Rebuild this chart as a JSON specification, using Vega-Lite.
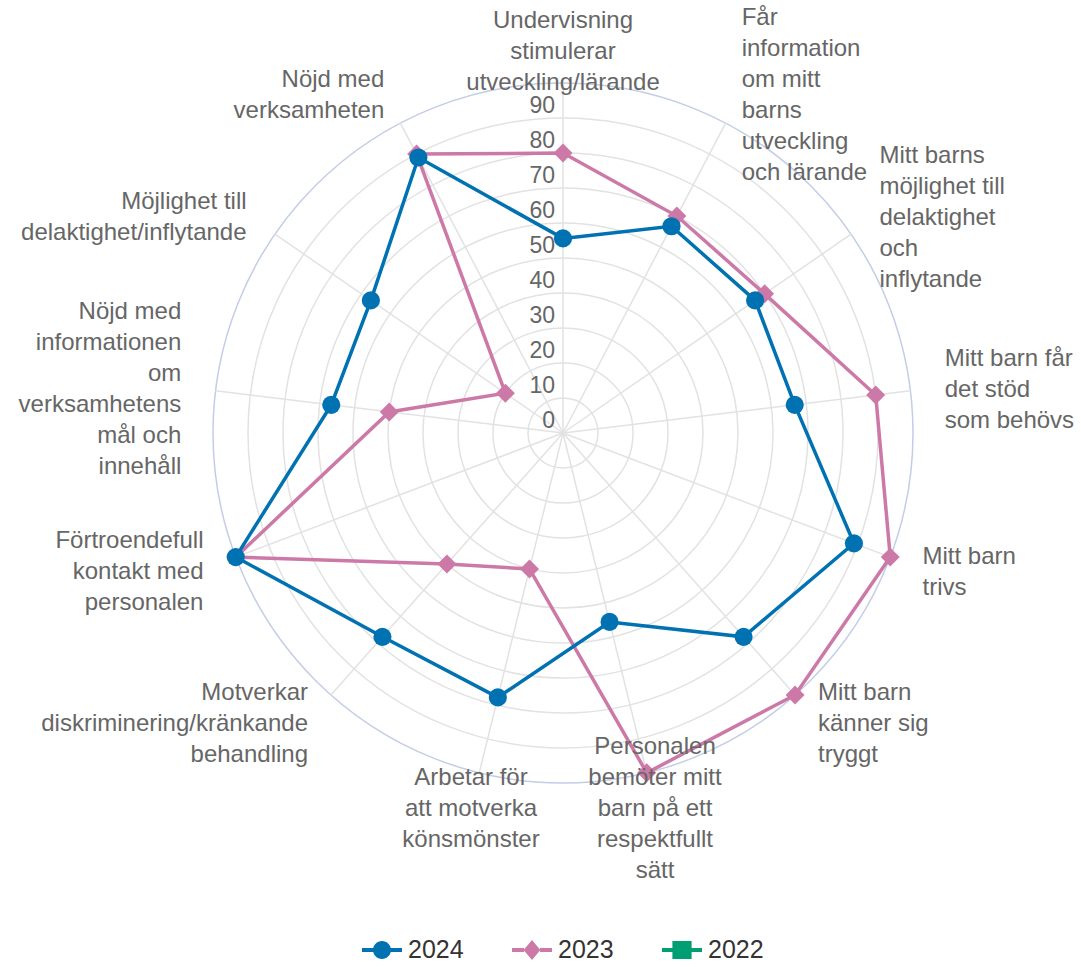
{
  "$schema": "https://vega.github.io/schema/vega-lite/v6.json",
  "width": 1081,
  "height": 967,
  "autosize": {"type": "none"},
  "padding": 0,
  "background": "white",
  "config": {"view": {"stroke": null}, "font": "Liberation Sans"},
  "resolve": {"legend": {"color": "independent", "shape": "independent"}},
  "datasets": {
    "cats": [
      {"i": 0, "label": "Undervisning\nstimulerar\nutveckling/lärande"},
      {"i": 1, "label": "Får\ninformation\nom mitt\nbarns\nutveckling\noch lärande"},
      {"i": 2, "label": "Mitt barns\nmöjlighet till\ndelaktighet\noch\ninflytande"},
      {"i": 3, "label": "Mitt barn får\ndet stöd\nsom behövs"},
      {"i": 4, "label": "Mitt barn\ntrivs"},
      {"i": 5, "label": "Mitt barn\nkänner sig\ntryggt"},
      {"i": 6, "label": "Personalen\nbemöter mitt\nbarn på ett\nrespektfullt\nsätt"},
      {"i": 7, "label": "Arbetar för\natt motverka\nkönsmönster"},
      {"i": 8, "label": "Motverkar\ndiskriminering/kränkande\nbehandling"},
      {"i": 9, "label": "Förtroendefull\nkontakt med\npersonalen"},
      {"i": 10, "label": "Nöjd med\ninformationen\nom\nverksamhetens\nmål och\ninnehåll"},
      {"i": 11, "label": "Möjlighet till\ndelaktighet/inflytande"},
      {"i": 12, "label": "Nöjd med\nverksamheten"}
    ],
    "vals": [
      {"i": 0, "year": "2023", "value": 80},
      {"i": 1, "year": "2023", "value": 70},
      {"i": 2, "year": "2023", "value": 70},
      {"i": 3, "year": "2023", "value": 90},
      {"i": 4, "year": "2023", "value": 100},
      {"i": 5, "year": "2023", "value": 100},
      {"i": 6, "year": "2023", "value": 100},
      {"i": 7, "year": "2023", "value": 40},
      {"i": 8, "year": "2023", "value": 50},
      {"i": 9, "year": "2023", "value": 100},
      {"i": 10, "year": "2023", "value": 50},
      {"i": 11, "year": "2023", "value": 20},
      {"i": 12, "year": "2023", "value": 90},
      {"i": 0, "year": "2024", "value": 55.6},
      {"i": 1, "year": "2024", "value": 66.7},
      {"i": 2, "year": "2024", "value": 66.7},
      {"i": 3, "year": "2024", "value": 66.7},
      {"i": 4, "year": "2024", "value": 88.9},
      {"i": 5, "year": "2024", "value": 77.8},
      {"i": 6, "year": "2024", "value": 55.6},
      {"i": 7, "year": "2024", "value": 77.8},
      {"i": 8, "year": "2024", "value": 77.8},
      {"i": 9, "year": "2024", "value": 100},
      {"i": 10, "year": "2024", "value": 66.7},
      {"i": 11, "year": "2024", "value": 66.7},
      {"i": 12, "year": "2024", "value": 88.9}
    ],
    "rings": [
      {"v": 0}, {"v": 10}, {"v": 20}, {"v": 30}, {"v": 40}, {"v": 50},
      {"v": 60}, {"v": 70}, {"v": 80}, {"v": 90}, {"v": 100}
    ]
  },
  "encoding": {
    "x": {"field": "x", "type": "quantitative", "scale": {"domain": [-160.857, 148], "nice": false, "zero": false}, "axis": null},
    "y": {"field": "y", "type": "quantitative", "scale": {"domain": [-152.571, 123.714], "nice": false, "zero": false}, "axis": null}
  },
  "layer": [
    {
      "data": {"name": "rings"},
      "transform": [
        {"filter": "datum.v > 0"},
        {"calculate": "0", "as": "x"},
        {"calculate": "0", "as": "y"}
      ],
      "mark": {"type": "point", "shape": "circle", "filled": false, "strokeWidth": 1.5, "opacity": 1},
      "encoding": {
        "size": {"field": "v", "type": "quantitative", "scale": {"type": "pow", "exponent": 2, "domain": [0, 100], "range": [0, 490000]}, "legend": null},
        "stroke": {"condition": {"test": "datum.v === 100", "value": "#c3cde6"}, "value": "#e2e2e2"}
      }
    },
    {
      "data": {"name": "cats"},
      "transform": [
        {"calculate": "datum.i * 2 * PI / 13", "as": "a"},
        {"calculate": "100 * sin(datum.a)", "as": "x"},
        {"calculate": "100 * cos(datum.a)", "as": "y"},
        {"calculate": "0", "as": "x0"},
        {"calculate": "0", "as": "y0"}
      ],
      "mark": {"type": "rule", "color": "#e2e2e2", "strokeWidth": 1.5},
      "encoding": {"x2": {"field": "x0"}, "y2": {"field": "y0"}}
    },
    {
      "data": {"name": "rings"},
      "transform": [
        {"filter": "datum.v < 100"},
        {"calculate": "0", "as": "x"},
        {"calculate": "datum.v", "as": "y"}
      ],
      "mark": {"type": "text", "align": "right", "baseline": "middle", "dx": -8, "dy": -12, "fontSize": 23, "color": "#666666"},
      "encoding": {
        "text": {"field": "v", "type": "quantitative"}
      }
    },
    {
      "data": {"name": "vals"},
      "transform": [
        {"filter": "datum.year === '2023'"},
        {"calculate": "datum.i * 2 * PI / 13", "as": "a"},
        {"calculate": "datum.value * sin(datum.a)", "as": "x"},
        {"calculate": "datum.value * cos(datum.a)", "as": "y"}
      ],
      "layer": [
        {
          "mark": {"type": "line", "interpolate": "linear-closed", "strokeWidth": 3.5},
          "encoding": {
            "order": {"field": "i", "type": "quantitative"},
            "color": {"field": "year", "type": "nominal", "scale": {"domain": ["2024", "2023", "2022"], "range": ["#0072B2", "#CC79A7", "#009E73"]}, "legend": null}
          }
        },
        {
          "mark": {"type": "point", "shape": "diamond", "filled": true, "size": 360, "opacity": 1},
          "encoding": {
            "color": {"field": "year", "type": "nominal", "legend": null}
          }
        }
      ]
    },
    {
      "data": {"name": "vals"},
      "transform": [
        {"filter": "datum.year === '2024'"},
        {"calculate": "datum.i * 2 * PI / 13", "as": "a"},
        {"calculate": "datum.value * sin(datum.a)", "as": "x"},
        {"calculate": "datum.value * cos(datum.a)", "as": "y"}
      ],
      "layer": [
        {
          "mark": {"type": "line", "interpolate": "linear-closed", "strokeWidth": 3.5},
          "encoding": {
            "order": {"field": "i", "type": "quantitative"},
            "color": {"field": "year", "type": "nominal", "legend": null}
          }
        },
        {
          "mark": {"type": "point", "shape": "circle", "filled": true, "size": 330, "opacity": 1},
          "encoding": {
            "color": {"field": "year", "type": "nominal", "legend": null}
          }
        }
      ]
    },
    {
      "data": {"name": "cats"},
      "transform": [
        {"calculate": "datum.i * 2 * PI / 13", "as": "a"},
        {"calculate": "length(split(datum.label, '\\n'))", "as": "n"},
        {"calculate": "109.86 * sin(datum.a)", "as": "x"},
        {"calculate": "109.86 * cos(datum.a) + (datum.n - 1) * 15.5 / 3.5 - 0.9", "as": "y"}
      ],
      "layer": [
        {
          "transform": [{"filter": "datum.i === 0 || datum.i === 6 || datum.i === 7"}],
          "mark": {"type": "text", "align": "center", "baseline": "middle", "lineBreak": "\n", "lineHeight": 31, "fontSize": 24, "color": "#666666"},
          "encoding": {"text": {"field": "label", "type": "nominal"}}
        },
        {
          "transform": [{"filter": "datum.i >= 1 && datum.i <= 5"}],
          "mark": {"type": "text", "align": "left", "baseline": "middle", "lineBreak": "\n", "lineHeight": 31, "fontSize": 24, "color": "#666666"},
          "encoding": {"text": {"field": "label", "type": "nominal"}}
        },
        {
          "transform": [{"filter": "datum.i >= 8"}],
          "mark": {"type": "text", "align": "right", "baseline": "middle", "lineBreak": "\n", "lineHeight": 31, "fontSize": 24, "color": "#666666"},
          "encoding": {"text": {"field": "label", "type": "nominal"}}
        }
      ]
    },
    {
      "data": {"name": "vals"},
      "transform": [
        {"calculate": "0", "as": "x"},
        {"calculate": "0", "as": "y"}
      ],
      "mark": {"type": "point", "filled": true, "size": 0},
      "encoding": {
        "color": {
          "field": "year", "type": "nominal",
          "legend": {"title": null, "orient": "none", "legendX": 362, "legendY": 930, "direction": "horizontal", "symbolSize": 1600, "symbolOpacity": 1, "symbolStrokeWidth": 0, "labelFontSize": 25, "labelColor": "#333333", "labelOffset": 6, "columnPadding": 48, "padding": 0, "labelFont": "Liberation Sans"}
        },
        "shape": {
          "field": "year", "type": "nominal",
          "scale": {
            "domain": ["2024", "2023", "2022"],
            "range": [
              "M-1,-0.1H-0.4V0.1H-1Z M0.4,-0.1H1V0.1H0.4Z M0.45,0A0.45,0.45,0,1,1,-0.45,0A0.45,0.45,0,1,1,0.45,0Z",
              "M-1,-0.1H-0.4V0.1H-1Z M0.4,-0.1H1V0.1H0.4Z M0,-0.5L0.42,0L0,0.5L-0.42,0Z",
              "M-1,-0.1H-0.45V0.1H-1Z M0.45,-0.1H1V0.1H0.45Z M-0.48,-0.45H0.48V0.45H-0.48Z"
            ]
          },
          "legend": {"title": null, "orient": "none", "legendX": 362, "legendY": 930, "direction": "horizontal", "symbolSize": 1600, "symbolOpacity": 1, "symbolStrokeWidth": 0, "labelFontSize": 25, "labelColor": "#333333", "labelOffset": 6, "columnPadding": 48, "padding": 0, "labelFont": "Liberation Sans"}
        }
      }
    }
  ]
}
